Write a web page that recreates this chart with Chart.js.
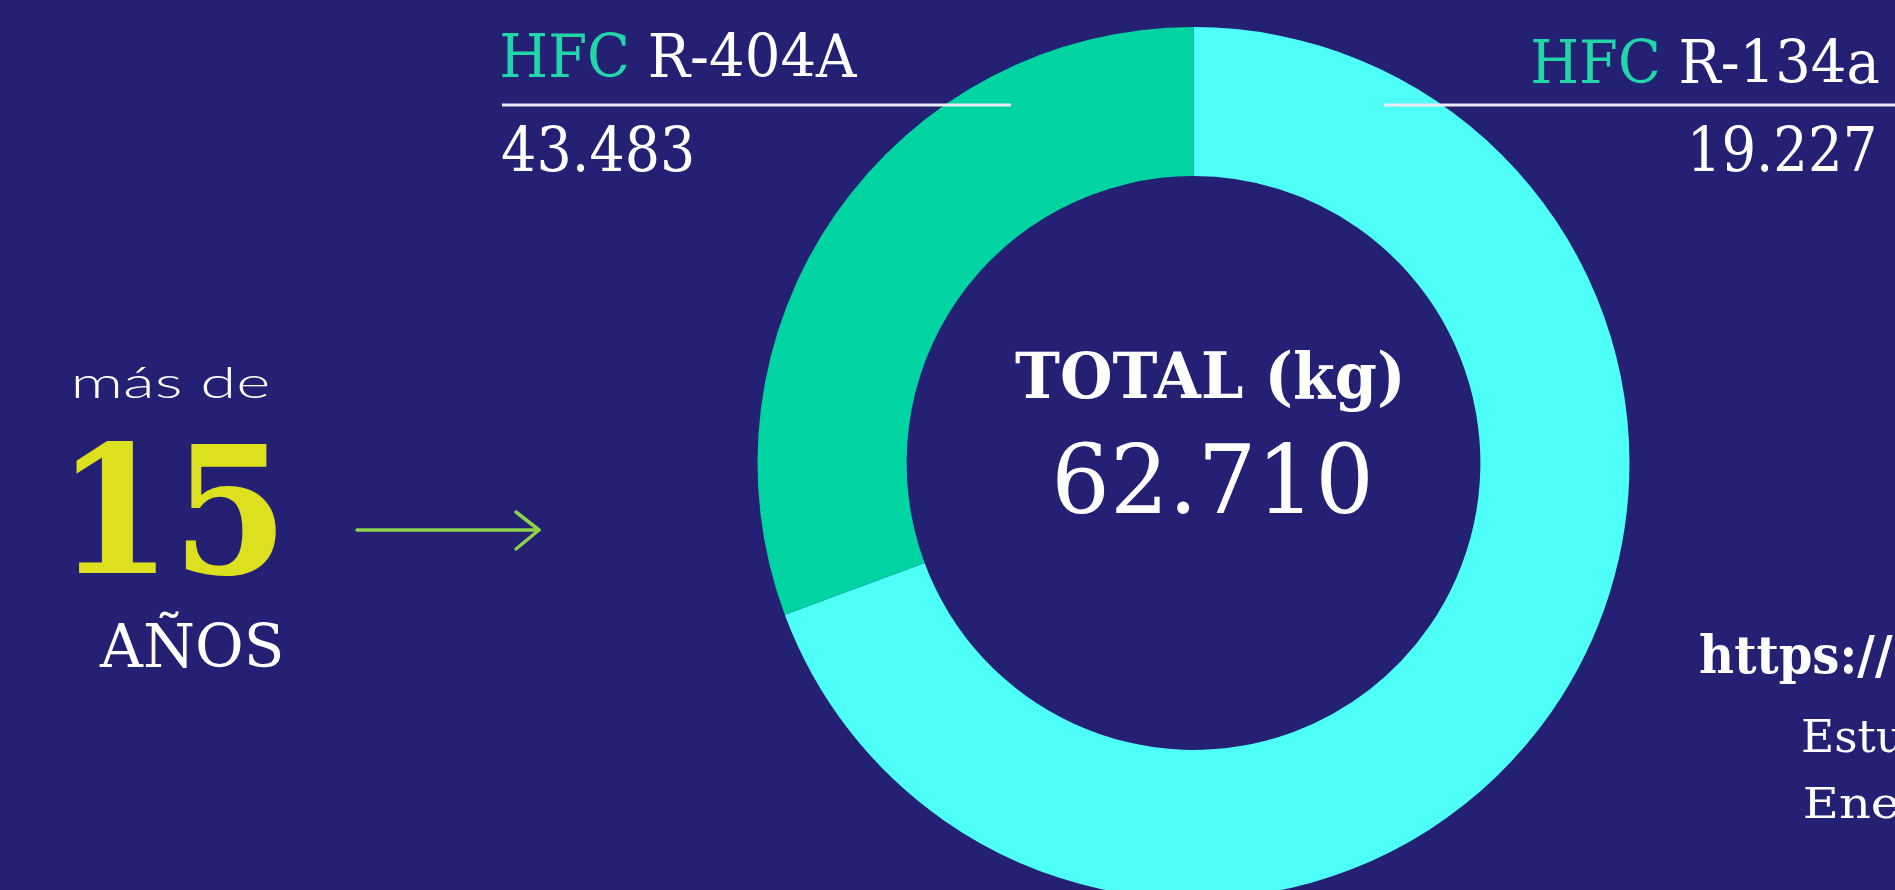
<!DOCTYPE html>
<html>
<head>
<meta charset="utf-8">
<script src="https://cdn.jsdelivr.net/npm/chart.js@4.4.1/dist/chart.umd.min.js"></script>
<style>
  html, body { margin: 0; padding: 0; background: #242074; overflow: hidden; width: 1895px; height: 890px; }
  #wrap { position: absolute; left: 0; top: 0; width: 1895px; height: 910px; }
</style>
</head>
<body>
<div id="wrap"><canvas id="chart"></canvas></div>
<script>
// ---- data ----
const categories = ['HFC R-404A', 'HFC R-134a'];
const gasFamily = ['HFC', 'HFC'];
const gasCode = ['R-404A', 'R-134a'];
const valuesKg = [43483, 19227];
const sliceColors = ['#4dfff7', '#00d4a3'];
const totalTitle = 'TOTAL (kg)';
const sideIntro = 'más de';
const sideYears = '15';
const sideUnit = 'AÑOS';
const sourceLines = ['https://', 'Estudio', 'Energía'];

// ---- styling ----
const WHITE = '#ffffff';
const FAMILY_GREEN = '#22d6a9';
const YELLOW = '#dde01f';
const ARROW = '#8dd24b';
const SERIF = '"DejaVu Serif", serif';
const SANS = 'Lato, "Open Sans", sans-serif';

function fmtKg(n) { return String(n).replace(/\B(?=(\d{3})+(?!\d))/g, '.'); }
const totalKg = valuesKg.reduce((a, b) => a + b, 0);

function fitText(ctx, parts, o) {
  const full = parts.map(p => p.t).join('');
  ctx.font = `${o.weight} 100px ${o.family}`;
  const a = ctx.measureText(o.ref).actualBoundingBoxAscent;
  const size = o.capH / a * 100;
  ctx.font = `${o.weight} ${size}px ${o.family}`;
  const m = ctx.measureText(full);
  let sx;
  if (o.measure) {
    const mm = ctx.measureText(o.measure);
    sx = o.measureW / (mm.actualBoundingBoxLeft + mm.actualBoundingBoxRight);
  } else {
    sx = o.width / (m.actualBoundingBoxLeft + m.actualBoundingBoxRight);
  }
  const ink = (m.actualBoundingBoxLeft + m.actualBoundingBoxRight) * sx;
  const left = o.align === 'right' ? o.x - ink : (o.align === 'center' ? o.x - ink / 2 : o.x);
  ctx.save();
  ctx.translate(left, o.base);
  ctx.scale(sx, 1);
  ctx.textAlign = 'left';
  ctx.textBaseline = 'alphabetic';
  let cx = m.actualBoundingBoxLeft;
  for (const p of parts) {
    ctx.fillStyle = p.color;
    ctx.fillText(p.t, cx, 0);
    cx += ctx.measureText(p.t).width;
  }
  ctx.restore();
}

const overlay = {
  id: 'overlay',
  afterDraw(chart) {
    const ctx = chart.ctx;
    ctx.save();
    // left label (first category)
    fitText(ctx, [{t: gasFamily[0] + ' ', color: FAMILY_GREEN}, {t: gasCode[0], color: WHITE}],
      {x: 502, base: 77, capH: 44, width: 356, weight: 'normal', family: SERIF, ref: 'H'});
    fitText(ctx, [{t: fmtKg(valuesKg[0]), color: WHITE}],
      {x: 502, base: 171, capH: 45, width: 190, weight: 'normal', family: SERIF, ref: '0'});
    // right label (second category)
    fitText(ctx, [{t: gasFamily[1] + ' ', color: FAMILY_GREEN}, {t: gasCode[1], color: WHITE}],
      {x: 1879, base: 83, capH: 44, width: 346, weight: 'normal', family: SERIF, ref: 'H', align: 'right'});
    fitText(ctx, [{t: fmtKg(valuesKg[1]), color: WHITE}],
      {x: 1874, base: 171, capH: 45, width: 181, weight: 'normal', family: SERIF, ref: '0', align: 'right'});
    // leader lines
    ctx.strokeStyle = '#eceaf4';
    ctx.lineWidth = 3;
    ctx.beginPath(); ctx.moveTo(502, 105); ctx.lineTo(1011, 105); ctx.stroke();
    ctx.beginPath(); ctx.moveTo(1384, 105); ctx.lineTo(1895, 105); ctx.stroke();
    // center
    fitText(ctx, [{t: totalTitle, color: WHITE}],
      {x: 1015, base: 398, capH: 46, width: 385, weight: 'bold', family: SERIF, ref: 'T'});
    fitText(ctx, [{t: fmtKg(totalKg), color: WHITE}],
      {x: 1057, base: 513, capH: 71, width: 311, weight: 'normal', family: SERIF, ref: '0'});
    // side note
    fitText(ctx, [{t: sideIntro, color: WHITE}],
      {x: 75, base: 398, capH: 32, width: 193, weight: '300', family: SANS, ref: 'd'});
    fitText(ctx, [{t: sideYears, color: YELLOW}],
      {x: 76, base: 573, capH: 131, width: 200, weight: 'bold', family: SERIF, ref: '1'});
    fitText(ctx, [{t: sideUnit, color: WHITE}],
      {x: 99, base: 667, capH: 43, width: 182, weight: 'normal', family: SERIF, ref: 'A'});
    // arrow
    ctx.strokeStyle = ARROW;
    ctx.lineWidth = 3.5;
    ctx.lineCap = 'round';
    ctx.lineJoin = 'round';
    ctx.beginPath(); ctx.moveTo(357, 530); ctx.lineTo(539, 530); ctx.stroke();
    ctx.beginPath(); ctx.moveTo(516, 512); ctx.lineTo(539, 530); ctx.lineTo(516, 549); ctx.stroke();
    // source (clipped at right edge)
    fitText(ctx, [{t: sourceLines[0], color: WHITE}],
      {x: 1700, base: 673, capH: 40, measure: 'https', measureW: 138, weight: 'bold', family: SERIF, ref: 'h'});
    fitText(ctx, [{t: sourceLines[1], color: WHITE}],
      {x: 1803, base: 752, capH: 32, measure: 'Est', measureW: 73, weight: 'normal', family: SERIF, ref: 'E'});
    fitText(ctx, [{t: sourceLines[2], color: WHITE}],
      {x: 1805, base: 818, capH: 31, measure: 'En', measureW: 65, weight: 'normal', family: SERIF, ref: 'E'});
    ctx.restore();
  }
};

new Chart(document.getElementById('chart'), {
  type: 'doughnut',
  data: {
    labels: categories,
    datasets: [{
      data: valuesKg,
      backgroundColor: sliceColors,
      borderWidth: 0,
      hoverOffset: 0
    }]
  },
  options: {
    responsive: true,
    maintainAspectRatio: false,
    animation: false,
    events: [],
    cutout: '65.8%',
    layout: { padding: { left: 757.5, right: 265.5, top: 27, bottom: 11 } },
    plugins: { legend: { display: false }, tooltip: { enabled: false } }
  },
  plugins: [overlay]
});
</script>
</body>
</html>
